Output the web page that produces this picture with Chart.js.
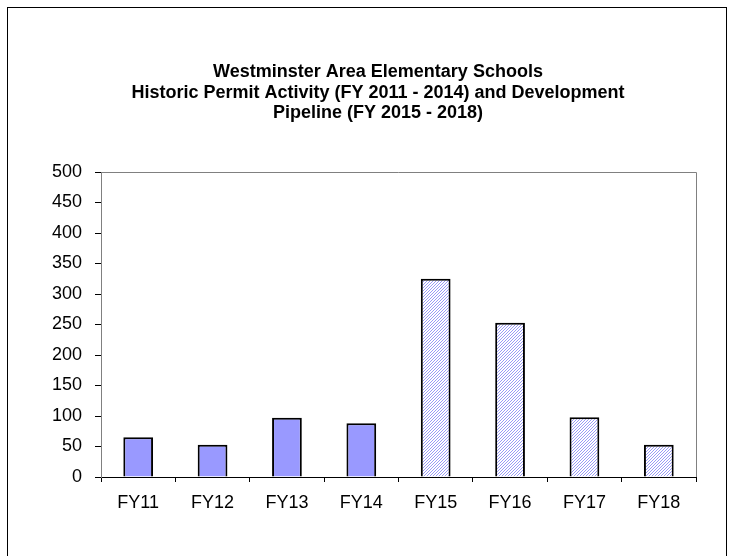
<!DOCTYPE html>
<html>
<head>
<meta charset="utf-8">
<script src="https://cdn.jsdelivr.net/npm/chart.js@4"></script>
<style>
	html, body { margin: 0; padding: 0; background: #fff; }
	#wrap { width: 735px; height: 556px; }
</style>
</head>
<body>
<div id="wrap"><canvas id="permit-chart" width="735" height="556"></canvas></div>
<script>
// data
const categories = ['FY11', 'FY12', 'FY13', 'FY14', 'FY15', 'FY16', 'FY17', 'FY18'];
const permits = [65, 53, 97, 88, 325, 253, 98, 53];
const isPipeline = [false, false, false, false, true, true, true, true];
const titleLines = [
	'Westminster Area Elementary Schools',
	'Historic Permit Activity (FY 2011 - 2014) and Development',
	'Pipeline (FY 2015 - 2018)'
];

// hatched fill for the pipeline years, drawn pixel by pixel
function makeHatch() {
	const c = document.createElement('canvas');
	c.width = 3; c.height = 3;
	const g = c.getContext('2d');
	g.fillStyle = '#ffffff';
	g.fillRect(0, 0, 3, 3);
	g.fillStyle = '#9a9af6';
	g.fillRect(0, 2, 1, 1);
	g.fillRect(1, 1, 1, 1);
	g.fillRect(2, 0, 1, 1);
	return g.createPattern(c, 'repeat');
}

const hatch = makeHatch();
const fills = isPipeline.map(p => p ? hatch : '#9999ff');

// frame round the whole chart, grey top/right of the plot and the title
const framePlugin = {
	id: 'frame',
	afterDraw(chart) {
		const ctx = chart.ctx;
		const a = chart.chartArea;
		ctx.save();
		ctx.strokeStyle = '#808080';
		ctx.lineWidth = 1;
		ctx.beginPath();
		ctx.moveTo(a.left, a.top + 0.5);
		ctx.lineTo(a.right + 0.5, a.top + 0.5);
		ctx.lineTo(a.right + 0.5, a.bottom);
		ctx.stroke();
		ctx.strokeStyle = '#000000';
		ctx.strokeRect(7.5, 7.5, 719, 600);

		// title, centred a bit right of the canvas middle like the original
		ctx.fillStyle = '#000000';
		ctx.font = 'bold 18px "Liberation Sans", Arial';
		ctx.textAlign = 'center';
		ctx.textBaseline = 'middle';
		titleLines.forEach((line, i) => {
			ctx.fillText(line, 378, 72 + i * 20.7);
		});
		ctx.restore();
	}
};

const ctx = document.getElementById('permit-chart').getContext('2d');
const permitChart = new Chart(ctx, {
	type: 'bar',
	data: {
		labels: categories,
		datasets: [{
			label: 'Permits',
			data: permits,
			backgroundColor: fills,
			borderColor: '#000000',
			borderWidth: 2,
			borderSkipped: 'bottom',
			categoryPercentage: 1,
			barPercentage: 0.4
		}]
	},
	options: {
		responsive: false,
		animation: false,
		layout: {
			padding: { left: 0, right: 39, top: 172, bottom: 39 }
		},
		plugins: {
			legend: { display: false },
			tooltip: { enabled: false },
			title: { display: false }
		},
		scales: {
			x: {
				afterFit(scale) { scale.height = 40; },
				grid: {
					drawOnChartArea: false,
					drawTicks: true,
					tickLength: 5,
					tickColor: '#000000'
				},
				border: { color: '#000000', width: 1 },
				ticks: {
					color: '#000000',
					padding: 10,
					maxRotation: 0,
					font: { family: '"Liberation Sans", Arial', size: 18 }
				}
			},
			y: {
				min: 0,
				max: 500,
				afterFit(scale) { scale.width = 101; },
				grid: {
					drawOnChartArea: false,
					drawTicks: true,
					tickLength: 6,
					tickColor: '#000000'
				},
				border: { color: '#808080', width: 1 },
				ticks: {
					stepSize: 50,
					color: '#000000',
					padding: 13,
					font: { family: '"Liberation Sans", Arial', size: 18 }
				}
			}
		}
	},
	plugins: [framePlugin]
});
</script>
</body>
</html>
